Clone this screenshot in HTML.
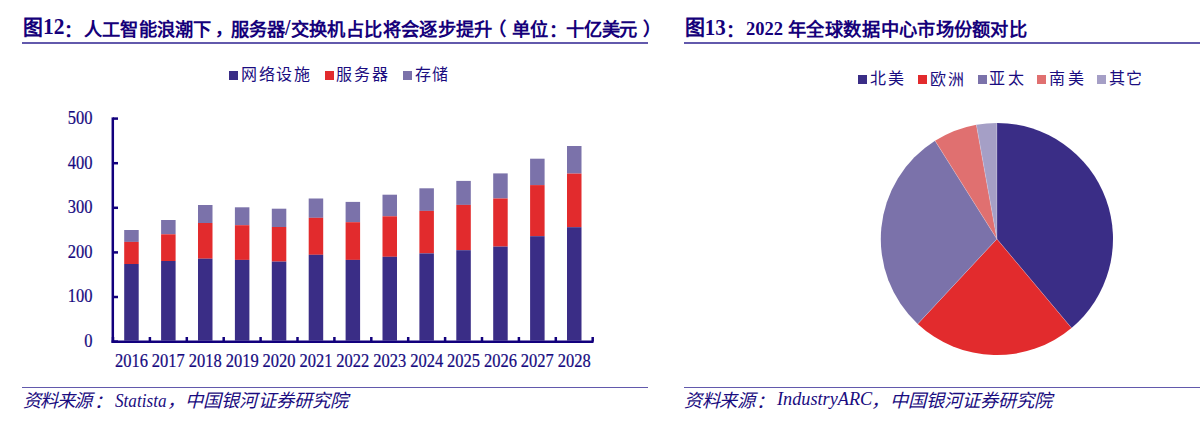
<!DOCTYPE html>
<html lang="zh-CN"><head><meta charset="utf-8"><title>图12 图13</title>
<style>
*{margin:0;padding:0;box-sizing:border-box}
html,body{width:1200px;height:423px;background:#fff;overflow:hidden}
body{position:relative;font-family:"Liberation Serif",serif;color:#1a0c80}
.s{position:absolute;white-space:nowrap;line-height:1;transform-origin:0 0}
.hl{position:absolute;height:1.5px;background:#6259ac}
.sq{position:absolute;width:9px;height:8.6px}
.yl{position:absolute;left:40px;width:52.6px;text-align:right;font-size:16.5px;line-height:19px;color:#160a80;-webkit-text-stroke:0.2px #160a80;transform:scaleY(1.12);transform-origin:50% 50%}
.xl{position:absolute;top:350.7px;width:40px;text-align:center;font-size:16.5px;line-height:19px;color:#160a80;-webkit-text-stroke:0.2px #160a80;transform:scaleY(1.12);transform-origin:50% 50%}
svg{position:absolute;left:0;top:0}
</style></head><body>
<div class="hl" style="left:22px;top:42.3px;width:626px"></div>
<div class="hl" style="left:684px;top:42.3px;width:516px"></div>
<div class="hl" style="left:22px;top:386.6px;width:626px"></div>
<div class="hl" style="left:684px;top:386.6px;width:516px"></div>

<div class="sq" style="left:229px;top:71px;background:#3a2d86"></div>
<div class="sq" style="left:324.5px;top:71px;background:#e22b2d"></div>
<div class="sq" style="left:403px;top:71px;background:#7b72aa"></div>
<div class="sq" style="left:857.6px;top:75px;background:#3a2d86"></div>
<div class="sq" style="left:917.6px;top:75px;background:#e22b2d"></div>
<div class="sq" style="left:977.6px;top:75px;background:#7b72aa"></div>
<div class="sq" style="left:1037.1px;top:75px;background:#e07070"></div>
<div class="sq" style="left:1097.1px;top:75px;background:#a59fc6"></div>

<div class="yl" style="top:331.00px">0</div><div class="yl" style="top:286.40px">100</div><div class="yl" style="top:241.80px">200</div><div class="yl" style="top:197.20px">300</div><div class="yl" style="top:152.60px">400</div><div class="yl" style="top:108.00px">500</div>
<div class="xl" style="left:111.45px">2016</div><div class="xl" style="left:148.35px">2017</div><div class="xl" style="left:185.25px">2018</div><div class="xl" style="left:222.15px">2019</div><div class="xl" style="left:259.05px">2020</div><div class="xl" style="left:295.95px">2021</div><div class="xl" style="left:332.85px">2022</div><div class="xl" style="left:369.75px">2023</div><div class="xl" style="left:406.65px">2024</div><div class="xl" style="left:443.55px">2025</div><div class="xl" style="left:480.45px">2026</div><div class="xl" style="left:517.35px">2027</div><div class="xl" style="left:554.25px">2028</div>

<svg width="1200" height="423" viewBox="0 0 1200 423">
<g><rect x="124.20" y="230" width="14.5" height="11.90" fill="#7b72aa"/>
<rect x="124.20" y="241.9" width="14.5" height="22.10" fill="#e22b2d"/>
<rect x="124.20" y="264" width="14.5" height="76.60" fill="#3a2d86"/>
<rect x="161.10" y="220" width="14.5" height="14.30" fill="#7b72aa"/>
<rect x="161.10" y="234.3" width="14.5" height="26.70" fill="#e22b2d"/>
<rect x="161.10" y="261" width="14.5" height="79.60" fill="#3a2d86"/>
<rect x="198.00" y="205" width="14.5" height="18.00" fill="#7b72aa"/>
<rect x="198.00" y="223" width="14.5" height="35.70" fill="#e22b2d"/>
<rect x="198.00" y="258.7" width="14.5" height="81.90" fill="#3a2d86"/>
<rect x="234.90" y="207.3" width="14.5" height="17.90" fill="#7b72aa"/>
<rect x="234.90" y="225.2" width="14.5" height="34.70" fill="#e22b2d"/>
<rect x="234.90" y="259.9" width="14.5" height="80.70" fill="#3a2d86"/>
<rect x="271.80" y="208.7" width="14.5" height="18.30" fill="#7b72aa"/>
<rect x="271.80" y="227" width="14.5" height="34.60" fill="#e22b2d"/>
<rect x="271.80" y="261.6" width="14.5" height="79.00" fill="#3a2d86"/>
<rect x="308.70" y="198.5" width="14.5" height="19.30" fill="#7b72aa"/>
<rect x="308.70" y="217.8" width="14.5" height="37.00" fill="#e22b2d"/>
<rect x="308.70" y="254.8" width="14.5" height="85.80" fill="#3a2d86"/>
<rect x="345.60" y="201.9" width="14.5" height="20.30" fill="#7b72aa"/>
<rect x="345.60" y="222.2" width="14.5" height="37.70" fill="#e22b2d"/>
<rect x="345.60" y="259.9" width="14.5" height="80.70" fill="#3a2d86"/>
<rect x="382.50" y="194.7" width="14.5" height="21.60" fill="#7b72aa"/>
<rect x="382.50" y="216.3" width="14.5" height="40.50" fill="#e22b2d"/>
<rect x="382.50" y="256.8" width="14.5" height="83.80" fill="#3a2d86"/>
<rect x="419.40" y="188.3" width="14.5" height="22.60" fill="#7b72aa"/>
<rect x="419.40" y="210.9" width="14.5" height="42.50" fill="#e22b2d"/>
<rect x="419.40" y="253.4" width="14.5" height="87.20" fill="#3a2d86"/>
<rect x="456.30" y="180.9" width="14.5" height="24.00" fill="#7b72aa"/>
<rect x="456.30" y="204.9" width="14.5" height="45.30" fill="#e22b2d"/>
<rect x="456.30" y="250.2" width="14.5" height="90.40" fill="#3a2d86"/>
<rect x="493.20" y="173.4" width="14.5" height="25.10" fill="#7b72aa"/>
<rect x="493.20" y="198.5" width="14.5" height="48.10" fill="#e22b2d"/>
<rect x="493.20" y="246.6" width="14.5" height="94.00" fill="#3a2d86"/>
<rect x="530.10" y="158.7" width="14.5" height="26.40" fill="#7b72aa"/>
<rect x="530.10" y="185.1" width="14.5" height="51.10" fill="#e22b2d"/>
<rect x="530.10" y="236.2" width="14.5" height="104.40" fill="#3a2d86"/>
<rect x="567.00" y="146" width="14.5" height="27.60" fill="#7b72aa"/>
<rect x="567.00" y="173.6" width="14.5" height="53.60" fill="#e22b2d"/>
<rect x="567.00" y="227.2" width="14.5" height="113.40" fill="#3a2d86"/></g>
<g stroke="#12007d" stroke-width="2.5" fill="none">
<line x1="112.8" y1="117.4" x2="112.8" y2="342.9"/>
<line x1="111.55" y1="341.7" x2="593.5" y2="341.7"/>
<line x1="113" y1="341.60" x2="118" y2="341.60"/>
<line x1="113" y1="297.00" x2="118" y2="297.00"/>
<line x1="113" y1="252.40" x2="118" y2="252.40"/>
<line x1="113" y1="207.80" x2="118" y2="207.80"/>
<line x1="113" y1="163.20" x2="118" y2="163.20"/>
<line x1="113" y1="118.60" x2="118" y2="118.60"/>
<line x1="113.00" y1="341.6" x2="113.00" y2="337"/>
<line x1="149.90" y1="341.6" x2="149.90" y2="337"/>
<line x1="186.80" y1="341.6" x2="186.80" y2="337"/>
<line x1="223.70" y1="341.6" x2="223.70" y2="337"/>
<line x1="260.60" y1="341.6" x2="260.60" y2="337"/>
<line x1="297.50" y1="341.6" x2="297.50" y2="337"/>
<line x1="334.40" y1="341.6" x2="334.40" y2="337"/>
<line x1="371.30" y1="341.6" x2="371.30" y2="337"/>
<line x1="408.20" y1="341.6" x2="408.20" y2="337"/>
<line x1="445.10" y1="341.6" x2="445.10" y2="337"/>
<line x1="482.00" y1="341.6" x2="482.00" y2="337"/>
<line x1="518.90" y1="341.6" x2="518.90" y2="337"/>
<line x1="555.80" y1="341.6" x2="555.80" y2="337"/>
<line x1="592.70" y1="341.6" x2="592.70" y2="337"/>
</g>
<path d="M996.9,239.0 L996.90,122.90 A116.1,116.1 0 0 1 1071.53,327.94 Z" fill="#3a2d86"/>
<path d="M996.9,239.0 L1071.53,327.94 A116.1,116.1 0 0 1 917.72,323.91 Z" fill="#e22b2d"/>
<path d="M996.9,239.0 L917.72,323.91 A116.1,116.1 0 0 1 935.03,140.76 Z" fill="#7b72aa"/>
<path d="M996.9,239.0 L935.03,140.76 A116.1,116.1 0 0 1 976.34,124.73 Z" fill="#e07070"/>
<path d="M996.9,239.0 L976.34,124.73 A116.1,116.1 0 0 1 996.90,122.90 Z" fill="#a59fc6"/>
<g stroke="#e8e6f2" stroke-width="0.6" stroke-opacity="0.45"><line x1="996.9" y1="239.0" x2="996.90" y2="122.90"/>
<line x1="996.9" y1="239.0" x2="1071.53" y2="327.94"/>
<line x1="996.9" y1="239.0" x2="917.72" y2="323.91"/>
<line x1="996.9" y1="239.0" x2="935.03" y2="140.76"/>
<line x1="996.9" y1="239.0" x2="976.34" y2="124.73"/></g>
</svg>
<span class="s" style="left:23.21px;top:18.30px;font-size:18.25px;font-weight:bold;color:#15007a;transform:scale(1.0875,1.1000);">图</span>
<span class="s" style="left:43.16px;top:16.39px;font-size:21px;font-weight:bold;color:#15007a;transform:scale(1.0222,1.0714);">12</span>
<span class="s" style="left:64.30px;top:22.05px;font-size:18.25px;font-weight:bold;color:#15007a;">：</span>
<span class="s" style="left:84.00px;top:20.65px;font-size:18.25px;font-weight:bold;color:#15007a;letter-spacing:0.217px;">人工智能浪潮下</span>
<span class="s" style="left:214.70px;top:20.00px;font-size:18.25px;font-weight:bold;color:#15007a;">，</span>
<span class="s" style="left:231.30px;top:20.65px;font-size:18.25px;font-weight:bold;color:#15007a;letter-spacing:-0.300px;">服务器</span>
<span class="s" style="left:285.30px;top:17.15px;font-size:18.25px;font-weight:bold;color:#15007a;transform:scale(1.0800,1.2231);">/</span>
<span class="s" style="left:290.70px;top:20.65px;font-size:18.25px;font-weight:bold;color:#15007a;letter-spacing:0.380px;">交换机占比将会逐步提升</span>
<span class="s" style="left:488.00px;top:20.15px;font-size:18.25px;font-weight:bold;color:#15007a;">（</span>
<span class="s" style="left:511.50px;top:20.65px;font-size:18.25px;font-weight:bold;color:#15007a;">单位</span>
<span class="s" style="left:548.70px;top:22.05px;font-size:18.25px;font-weight:bold;color:#15007a;">：</span>
<span class="s" style="left:565.70px;top:20.65px;font-size:18.25px;font-weight:bold;color:#15007a;letter-spacing:-0.067px;">十亿美元</span>
<span class="s" style="left:643.00px;top:20.15px;font-size:18.25px;font-weight:bold;color:#15007a;">）</span>
<span class="s" style="left:684.91px;top:18.30px;font-size:18.25px;font-weight:bold;color:#15007a;transform:scale(1.0938,1.1000);">图</span>
<span class="s" style="left:704.75px;top:16.30px;font-size:21px;font-weight:bold;color:#15007a;transform:scale(1.0000,1.1000);">13</span>
<span class="s" style="left:726.00px;top:22.05px;font-size:18.25px;font-weight:bold;color:#15007a;">：</span>
<span class="s" style="left:745.88px;top:18.96px;font-size:18.25px;font-weight:bold;color:#15007a;transform:scale(1.0171,1.0692);">2022</span>
<span class="s" style="left:787.50px;top:20.65px;font-size:18.25px;font-weight:bold;color:#15007a;letter-spacing:0.625px;">年全球数据</span>
<span class="s" style="left:881.00px;top:20.65px;font-size:18.25px;font-weight:bold;color:#15007a;letter-spacing:0.243px;">中心市场份额对比</span>
<span class="s" style="left:241.00px;top:66.50px;font-size:16px;color:#1a0c80;letter-spacing:1.667px;">网络设施</span>
<span class="s" style="left:336.00px;top:66.50px;font-size:16px;color:#1a0c80;letter-spacing:2.000px;">服务器</span>
<span class="s" style="left:414.70px;top:66.50px;font-size:16px;color:#1a0c80;letter-spacing:1.100px;">存储</span>
<span class="s" style="left:869.60px;top:71.35px;font-size:16px;color:#1a0c80;letter-spacing:2.900px;">北美</span>
<span class="s" style="left:929.60px;top:71.85px;font-size:16px;color:#1a0c80;letter-spacing:2.500px;">欧洲</span>
<span class="s" style="left:989.30px;top:71.35px;font-size:16px;color:#1a0c80;letter-spacing:2.400px;">亚太</span>
<span class="s" style="left:1049.00px;top:71.35px;font-size:16px;color:#1a0c80;letter-spacing:2.500px;">南美</span>
<span class="s" style="left:1109.00px;top:71.35px;font-size:16px;color:#1a0c80;letter-spacing:1.000px;">其它</span>
<span class="s" style="left:22.70px;top:391.75px;font-size:18.25px;font-style:italic;color:#1a0c80;letter-spacing:-0.900px;">资料来源</span>
<span class="s" style="left:94.00px;top:392.70px;font-size:18.25px;font-style:italic;color:#1a0c80;">：</span>
<span class="s" style="left:115.20px;top:390.87px;font-size:17.5px;font-style:italic;color:#1a0c80;transform:scale(0.9808,1.1091);">Statista</span>
<span class="s" style="left:166.50px;top:391.50px;font-size:18.25px;font-style:italic;color:#1a0c80;">，</span>
<span class="s" style="left:185.20px;top:391.75px;font-size:18.25px;font-style:italic;color:#1a0c80;letter-spacing:0.100px;">中国银河证券研究院</span>
<span class="s" style="left:684.00px;top:391.75px;font-size:18.25px;font-style:italic;color:#1a0c80;letter-spacing:-0.500px;">资料来源</span>
<span class="s" style="left:756.00px;top:392.70px;font-size:18.25px;font-style:italic;color:#1a0c80;">：</span>
<span class="s" style="left:776.90px;top:391.44px;font-size:17.5px;font-style:italic;color:#1a0c80;transform:scale(1.0424,1.0312);">IndustryARC</span>
<span class="s" style="left:871.00px;top:391.50px;font-size:18.25px;font-style:italic;color:#1a0c80;">，</span>
<span class="s" style="left:889.50px;top:391.75px;font-size:18.25px;font-style:italic;color:#1a0c80;letter-spacing:0.062px;">中国银河证券研究院</span>
</body></html>
